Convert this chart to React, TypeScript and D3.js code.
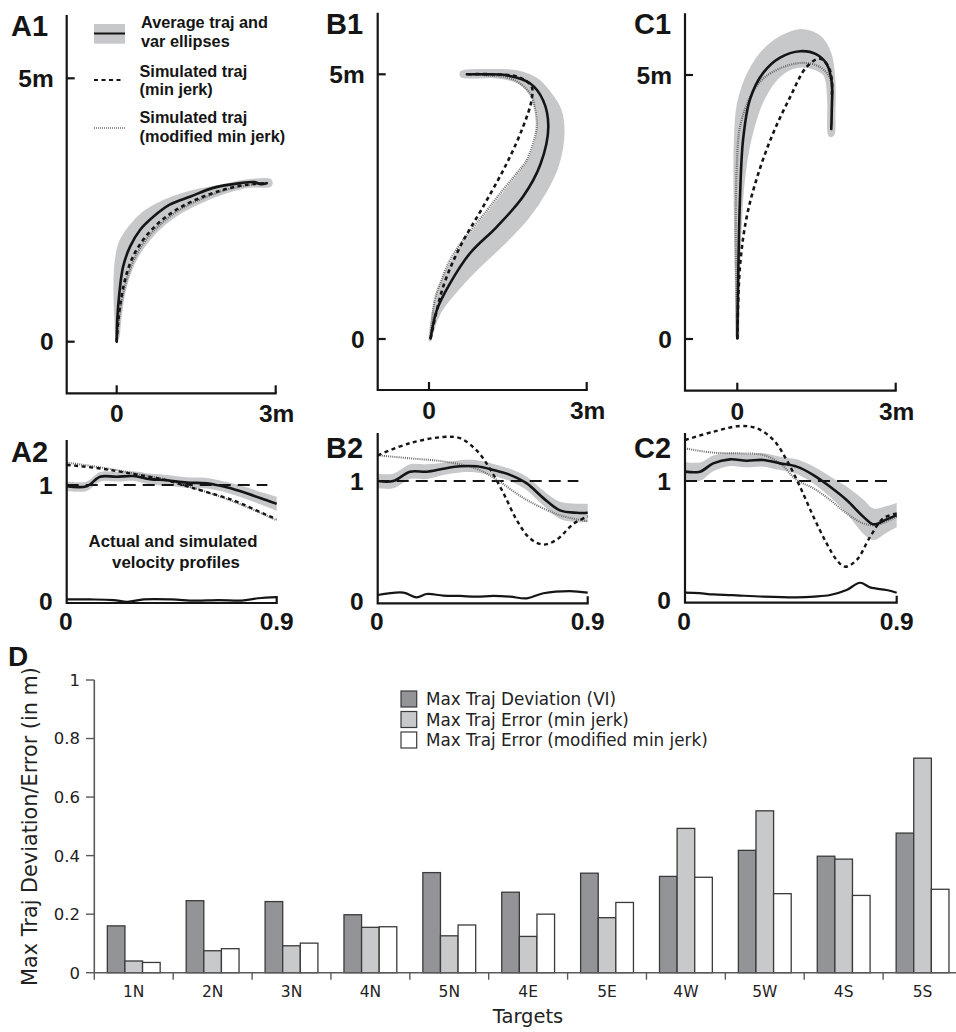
import React from "react";
import * as d3 from "d3";

type P = [number, number];

// ---------------- Panels A1/B1/C1: trajectories (metres) ----------------
const a1Mean: P[] = [[0, 0], [0.01, 0.41], [0.05, 0.92], [0.12, 1.42], [0.25, 1.8], [0.44, 2.12], [0.69, 2.37], [1.0, 2.6], [1.38, 2.75], [1.82, 2.92], [2.33, 3.01], [2.6, 3.03], [2.72, 2.99], [2.83, 3.01]];
const a1MinJerk: P[] = [[0, 0], [0.03, 0.4], [0.09, 0.85], [0.19, 1.3], [0.34, 1.68], [0.55, 2.0], [0.82, 2.28], [1.15, 2.52], [1.55, 2.72], [2.0, 2.88], [2.45, 2.98], [2.83, 3.01]];
const a1ModJerk: P[] = [[0, 0], [0.04, 0.4], [0.11, 0.85], [0.22, 1.28], [0.37, 1.65], [0.58, 1.97], [0.85, 2.25], [1.18, 2.5], [1.58, 2.7], [2.02, 2.87], [2.47, 2.97], [2.83, 3.01]];
const a1BandOuter: P[] = [[0, 0.05], [-0.01, 0.3], [-0.03, 0.79], [-0.02, 1.42], [0.06, 1.87], [0.25, 2.18], [0.5, 2.44], [0.88, 2.66], [1.32, 2.82], [1.89, 2.94], [2.45, 3.05], [2.9, 3.06]];
const a1BandInner: P[] = [[0.03, 0.1], [0.07, 0.5], [0.13, 0.9], [0.24, 1.3], [0.4, 1.65], [0.62, 1.96], [0.9, 2.24], [1.24, 2.48], [1.64, 2.68], [2.08, 2.85], [2.5, 2.95], [2.9, 2.97]];

const b1Mean: P[] = [[0.03, 0.01], [0.15, 0.55], [0.4, 1.05], [0.78, 1.62], [1.29, 2.12], [1.79, 2.69], [2.12, 3.3], [2.27, 4.01], [2.17, 4.51], [1.92, 4.83], [1.48, 4.98], [1.03, 5.0], [0.72, 5.0]];
const b1MinJerk: P[] = [[0.03, 0.01], [0.27, 0.99], [0.59, 1.74], [1.03, 2.5], [1.48, 3.32], [1.79, 4.01], [1.95, 4.51], [1.95, 4.77], [1.7, 4.95], [1.2, 5.0], [0.72, 5.0]];
const b1ModJerk: P[] = [[0.03, 0.01], [0.11, 0.74], [0.24, 1.12], [0.4, 1.49], [0.65, 1.87], [0.91, 2.19], [1.16, 2.5], [1.41, 2.82], [1.67, 3.13], [1.86, 3.38], [1.98, 3.7], [2.05, 4.01], [2.02, 4.33], [1.92, 4.64], [1.6, 4.9], [1.1, 4.98], [0.72, 5.0]];
const b1BandOuter: P[] = [[0.02, -0.02], [0.2, 0.5], [0.55, 0.95], [0.95, 1.37], [1.42, 1.81], [1.88, 2.3], [2.22, 2.8], [2.45, 3.3], [2.55, 3.89], [2.49, 4.33], [2.3, 4.64], [2.05, 4.9], [1.67, 5.05], [1.16, 5.07], [0.62, 5.04]];
const b1BandInner: P[] = [[0.02, 0.03], [0.1, 0.6], [0.24, 1.05], [0.44, 1.45], [0.7, 1.85], [0.97, 2.18], [1.23, 2.5], [1.48, 2.82], [1.73, 3.13], [1.92, 3.4], [2.03, 3.7], [2.08, 4.01], [2.05, 4.33], [1.94, 4.62], [1.7, 4.85], [1.3, 4.95], [0.62, 4.97]];

const c1Mean: P[] = [[0, 0.01], [0.02, 1.37], [0.05, 2.64], [0.11, 3.78], [0.24, 4.54], [0.49, 5.04], [0.81, 5.33], [1.19, 5.45], [1.5, 5.39], [1.69, 5.21], [1.79, 4.86], [1.79, 4.36], [1.78, 3.98]];
const c1MinJerk: P[] = [[0, 0], [0.05, 1.37], [0.18, 2.32], [0.4, 3.14], [0.68, 3.9], [1.0, 4.58], [1.31, 5.15], [1.57, 5.31], [1.73, 5.15], [1.79, 4.9], [1.79, 4.6]];
const c1ModJerk: P[] = [[0, 0], [-0.03, 1.99], [-0.01, 3.26], [0.05, 4.01], [0.24, 4.58], [0.49, 4.93], [0.87, 5.15], [1.25, 5.23], [1.57, 5.15], [1.76, 4.93], [1.79, 4.51], [1.79, 4.05]];
const c1BandOuter: P[] = [[-0.01, 0.05], [-0.02, 1.2], [-0.04, 2.5], [-0.04, 3.63], [0.02, 4.45], [0.24, 5.08], [0.56, 5.52], [0.94, 5.77], [1.25, 5.84], [1.57, 5.71], [1.76, 5.39], [1.83, 4.88], [1.83, 4.25], [1.81, 3.87]];
const c1BandInner: P[] = [[0.01, 0.05], [0.02, 1.1], [0.05, 2.0], [0.11, 2.96], [0.24, 3.78], [0.49, 4.55], [0.81, 5.0], [1.13, 5.16], [1.45, 5.13], [1.66, 5.0], [1.73, 4.5], [1.73, 4.0], [1.75, 3.86]];

// ---------------- Panels A2/B2/C2: velocity profiles ----------------
const a2Mean: P[] = [[0, 0.99], [0.086, 0.99], [0.143, 1.07], [0.214, 1.07], [0.286, 1.076], [0.357, 1.05], [0.429, 1.04], [0.514, 1.02], [0.6, 1.015], [0.686, 0.98], [0.771, 0.93], [0.857, 0.87], [0.9, 0.84]];
const a2Sd: number[] = [0.04, 0.04, 0.04, 0.04, 0.04, 0.045, 0.045, 0.045, 0.045, 0.045, 0.05, 0.055, 0.06];
const a2MinJerk: P[] = [[0, 1.17], [0.143, 1.14], [0.286, 1.093], [0.429, 1.04], [0.514, 0.99], [0.6, 0.94], [0.714, 0.87], [0.857, 0.746], [0.9, 0.71]];
const a2ModJerk: P[] = [[0, 1.19], [0.143, 1.15], [0.286, 1.1], [0.429, 1.045], [0.514, 0.995], [0.6, 0.94], [0.714, 0.86], [0.857, 0.74], [0.9, 0.7]];
const a2Var: P[] = [[0, 0.03], [0.1, 0.03], [0.2, 0.025], [0.26, 0.01], [0.33, 0.03], [0.45, 0.03], [0.55, 0.02], [0.65, 0.025], [0.75, 0.02], [0.82, 0.04], [0.9, 0.05]];

const b2Mean: P[] = [[0, 1.0], [0.067, 1.0], [0.139, 1.076], [0.21, 1.076], [0.281, 1.1], [0.353, 1.12], [0.424, 1.12], [0.496, 1.09], [0.567, 1.05], [0.639, 0.98], [0.71, 0.86], [0.781, 0.76], [0.853, 0.74], [0.9, 0.74]];
const b2Sd: number[] = [0.06, 0.06, 0.06, 0.06, 0.05, 0.05, 0.05, 0.05, 0.05, 0.055, 0.06, 0.07, 0.075, 0.075];
const b2MinJerk: P[] = [[0, 1.21], [0.139, 1.31], [0.281, 1.36], [0.353, 1.35], [0.424, 1.25], [0.481, 1.1], [0.539, 0.9], [0.596, 0.68], [0.653, 0.53], [0.71, 0.48], [0.767, 0.52], [0.839, 0.65], [0.9, 0.71]];
const b2ModJerk: P[] = [[0, 1.21], [0.14, 1.185], [0.281, 1.16], [0.424, 1.1], [0.51, 1.01], [0.639, 0.845], [0.781, 0.72], [0.9, 0.67]];
const b2Var: P[] = [[0, 0.068], [0.11, 0.087], [0.167, 0.049], [0.21, 0.076], [0.281, 0.063], [0.353, 0.06], [0.424, 0.054], [0.496, 0.06], [0.567, 0.054], [0.639, 0.041], [0.71, 0.082], [0.824, 0.1], [0.9, 0.087]];

const c2Mean: P[] = [[0, 1.077], [0.064, 1.077], [0.12, 1.145], [0.191, 1.178], [0.262, 1.167], [0.333, 1.173], [0.404, 1.145], [0.475, 1.118], [0.546, 1.049], [0.617, 0.953], [0.687, 0.844], [0.758, 0.707], [0.801, 0.644], [0.857, 0.685], [0.9, 0.72]];
const c2Sd: number[] = [0.08, 0.075, 0.065, 0.055, 0.055, 0.055, 0.055, 0.06, 0.07, 0.085, 0.11, 0.14, 0.13, 0.11, 0.1];
const c2MinJerk: P[] = [[0, 1.337], [0.12, 1.405], [0.234, 1.452], [0.305, 1.433], [0.376, 1.337], [0.432, 1.173], [0.489, 0.953], [0.546, 0.707], [0.602, 0.488], [0.645, 0.351], [0.68, 0.296], [0.73, 0.351], [0.787, 0.542], [0.843, 0.693], [0.9, 0.734]];
const c2ModJerk: P[] = [[0, 1.268], [0.12, 1.233], [0.234, 1.227], [0.333, 1.214], [0.404, 1.145], [0.475, 1.008], [0.546, 0.94], [0.617, 0.844], [0.687, 0.734], [0.758, 0.652], [0.815, 0.638], [0.9, 0.707]];
const c2Var: P[] = [[0, 0.082], [0.06, 0.078], [0.12, 0.068], [0.2, 0.062], [0.333, 0.05], [0.475, 0.044], [0.55, 0.05], [0.617, 0.063], [0.687, 0.104], [0.744, 0.164], [0.787, 0.126], [0.857, 0.104], [0.9, 0.082]];

// ---------------- Panel D: bar chart ----------------
const targets: string[] = ["1N", "2N", "3N", "4N", "5N", "4E", "5E", "4W", "5W", "4S", "5S"];
const maxDevVI: number[] = [0.16, 0.246, 0.243, 0.198, 0.342, 0.275, 0.34, 0.329, 0.418, 0.398, 0.477];
const maxErrMinJerk: number[] = [0.04, 0.075, 0.092, 0.155, 0.126, 0.124, 0.188, 0.493, 0.553, 0.388, 0.733];
const maxErrModMinJerk: number[] = [0.035, 0.082, 0.101, 0.157, 0.163, 0.2, 0.24, 0.326, 0.27, 0.264, 0.285];
const seriesNames: string[] = ["Max Traj Deviation (VI)", "Max Traj Error (min jerk)", "Max Traj Error (modified min jerk)"];
const yTicksD: number[] = [0, 0.2, 0.4, 0.6, 0.8, 1];

const HEL = "'Liberation Sans', Arial, Helvetica, sans-serif";
const DV = "'DejaVu Sans', Verdana, sans-serif";
const GRAY_BAND = "#c7c8ca";
const INK = "#151515";
const TICK_FS = 24.5;

type TrajCfg = { axisX: number; top: number; bottom: number; right: number; x0: number; x3: number; y0: number; y5: number; label: string; labelX: number; labelY: number };

function TrajPanel({ cfg, mean, minJerk, modJerk, outer, inner }: { cfg: TrajCfg; mean: P[]; minJerk: P[]; modJerk: P[]; outer: P[]; inner: P[] }) {
  const xs = d3.scaleLinear().domain([0, 3]).range([cfg.x0, cfg.x3]);
  const ys = d3.scaleLinear().domain([0, 5]).range([cfg.y0, cfg.y5]);
  const line = d3.line<P>().x((d) => xs(d[0])).y((d) => ys(d[1])).curve(d3.curveCatmullRom.alpha(0.5));
  const band = line([...outer, ...inner.slice().reverse()]) + "Z";
  return (
    <g>
      <path d={band} fill={GRAY_BAND} stroke={GRAY_BAND} strokeWidth={3} strokeLinejoin="round" />
      <path d={line(modJerk) || ""} fill="none" stroke="#6a6a6a" strokeWidth={2.2} strokeDasharray="1 1.1" />
      <path d={line(minJerk) || ""} fill="none" stroke={INK} strokeWidth={2.6} strokeDasharray="4 3.5" />
      <path d={line(mean) || ""} fill="none" stroke={INK} strokeWidth={2.6} strokeLinecap="round" />
      <path d={`M${cfg.axisX},${cfg.top}V${cfg.bottom}H${cfg.right}`} fill="none" stroke={INK} strokeWidth={2.2} />
      {[0, 5].map((v) => (
        <line key={"yt" + v} x1={cfg.axisX} x2={cfg.axisX + 8} y1={ys(v)} y2={ys(v)} stroke={INK} strokeWidth={2.2} />
      ))}
      {[0, 3].map((v) => (
        <line key={"xt" + v} x1={xs(v)} x2={xs(v)} y1={cfg.bottom} y2={cfg.bottom - 8} stroke={INK} strokeWidth={2.2} />
      ))}
      <g fontFamily={HEL} fontWeight="bold" fontSize={TICK_FS} fill={INK}>
        <text x={cfg.axisX - 13} y={ys(5) + 8.5} textAnchor="end">5m</text>
        <text x={cfg.axisX - 13} y={ys(0) + 8.5} textAnchor="end">0</text>
        <text x={xs(0)} y={cfg.bottom + 29} textAnchor="middle">0</text>
        <text x={xs(3) + 1} y={cfg.bottom + 29} textAnchor="middle">3m</text>
      </g>
      <text x={cfg.labelX} y={cfg.labelY} fontFamily={HEL} fontWeight="bold" fontSize={29} fill={INK}>{cfg.label}</text>
    </g>
  );
}

type VelCfg = { axisX: number; top: number; bottom: number; right: number; y1: number; label: string; labelX: number; labelY: number };

function VelPanel({ cfg, mean, sd, minJerk, modJerk, vari }: { cfg: VelCfg; mean: P[]; sd: number[]; minJerk: P[]; modJerk: P[]; vari: P[] }) {
  const xs = d3.scaleLinear().domain([0, 0.9]).range([cfg.axisX, cfg.right]);
  const ys = d3.scaleLinear().domain([0, 1]).range([cfg.bottom, cfg.y1]);
  const curve = d3.curveCatmullRom.alpha(0.5);
  const line = d3.line<P>().x((d) => xs(d[0])).y((d) => ys(d[1])).curve(curve);
  const area = d3
    .area<[P, number]>()
    .x((d) => xs(d[0][0]))
    .y0((d) => ys(d[0][1] - d[1]))
    .y1((d) => ys(d[0][1] + d[1]))
    .curve(curve);
  const bandData: [P, number][] = mean.map((d, i) => [d, sd[i]]);
  return (
    <g>
      <path d={area(bandData) || ""} fill={GRAY_BAND} />
      <line x1={xs(0)} x2={xs(0.86)} y1={ys(1)} y2={ys(1)} stroke={INK} strokeWidth={2.2} strokeDasharray="12 7" />
      <path d={line(modJerk) || ""} fill="none" stroke="#6a6a6a" strokeWidth={2} strokeDasharray="1 1.1" />
      <path d={line(minJerk) || ""} fill="none" stroke={INK} strokeWidth={2.4} strokeDasharray="4 3.5" />
      <path d={line(mean) || ""} fill="none" stroke={INK} strokeWidth={2.6} />
      <path d={line(vari) || ""} fill="none" stroke={INK} strokeWidth={2.2} />
      <path d={`M${cfg.axisX},${cfg.top}V${cfg.bottom}H${cfg.right}V${cfg.bottom - 7}`} fill="none" stroke={INK} strokeWidth={2.2} />
      <g fontFamily={HEL} fontWeight="bold" fontSize={TICK_FS} fill={INK}>
        <text x={cfg.axisX - 14} y={ys(1) + 8.5} textAnchor="end">1</text>
        <text x={cfg.axisX - 14} y={cfg.bottom + 6.5} textAnchor="end">0</text>
        <text x={xs(0) - 1} y={630} textAnchor="middle">0</text>
        <text x={xs(0.9)} y={630} textAnchor="middle">0.9</text>
      </g>
      <text x={cfg.labelX} y={cfg.labelY} fontFamily={HEL} fontWeight="bold" fontSize={29} fill={INK}>{cfg.label}</text>
    </g>
  );
}

function BarPanel() {
  const y = d3.scaleLinear().domain([0, 1]).range([972.7, 680]);
  const x = d3.scaleBand<string>().domain(targets).range([94.3, 962]).paddingInner(0).paddingOuter(0);
  const sub = d3.scaleBand<number>().domain([0, 1, 2]).range([0, x.bandwidth()]).paddingInner(0).paddingOuter(0.74);
  const fills = ["#939497", "#c8c9cb", "#ffffff"];
  const series = [maxDevVI, maxErrMinJerk, maxErrModMinJerk];
  const axisColor = "#5a5a5a";
  return (
    <g fontFamily={DV} fill="#222">
      {targets.map((t, i) => (
        <g key={t} transform={`translate(${x(t)},0)`}>
          {series.map((s, k) => (
            <rect key={k} x={sub(k)} y={y(s[i])} width={sub.bandwidth()} height={y(0) - y(s[i])} fill={fills[k]} stroke="#3a3a3a" strokeWidth={1.3} />
          ))}
        </g>
      ))}
      <line x1={94.3} x2={956} y1={y(0)} y2={y(0)} stroke={axisColor} strokeWidth={1.6} />
      <line x1={94.3} x2={94.3} y1={y(1)} y2={y(0)} stroke={axisColor} strokeWidth={1.6} />
      {yTicksD.map((v) => (
        <g key={v}>
          <line x1={86} x2={94.3} y1={y(v)} y2={y(v)} stroke={axisColor} strokeWidth={1.4} />
          <text x={80} y={y(v)} dy="0.36em" textAnchor="end" fontSize={16.5}>{String(v)}</text>
        </g>
      ))}
      {targets.map((t) => (
        <g key={"xt" + t}>
          <line x1={x(t)!} x2={x(t)!} y1={y(0)} y2={y(0) + 7} stroke={axisColor} strokeWidth={1.4} />
          <text x={x(t)! + x.bandwidth() / 2} y={996.5} textAnchor="middle" fontSize={15.5}>{t}</text>
        </g>
      ))}
      <text x={528} y={1022.5} textAnchor="middle" fontSize={19.5}>Targets</text>
      <text transform="translate(36.5,826.5) rotate(-90)" textAnchor="middle" fontSize={20.8}>Max Traj Deviation/Error (in m)</text>
      {seriesNames.map((n, k) => (
        <g key={n}>
          <rect x={401} y={691 + k * 20.5} width={15.7} height={16} fill={fills[k]} stroke="#3a3a3a" strokeWidth={1.2} />
          <text x={426} y={705 + k * 20.5} fontSize={16.8}>{n}</text>
        </g>
      ))}
      <text x={8} y={666} fontFamily={HEL} fontWeight="bold" fontSize={28} fill={INK}>D</text>
    </g>
  );
}

const trajA: TrajCfg = { axisX: 66.7, top: 15, bottom: 393.3, right: 276.7, x0: 116.7, x3: 275.7, y0: 341.7, y5: 78.3, label: "A1", labelX: 11, labelY: 36 };
const trajB: TrajCfg = { axisX: 377.7, top: 12.7, bottom: 390, right: 587.7, x0: 429, x3: 586.7, y0: 339, y5: 74.3, label: "B1", labelX: 326, labelY: 34 };
const trajC: TrajCfg = { axisX: 685, top: 13.3, bottom: 390.7, right: 896.7, x0: 737.3, x3: 895.7, y0: 339, y5: 75, label: "C1", labelX: 634, labelY: 34 };
const velA: VelCfg = { axisX: 66.7, top: 440, bottom: 603, right: 276.7, y1: 485, label: "A2", labelX: 11, labelY: 462 };
const velB: VelCfg = { axisX: 377.7, top: 433, bottom: 603.3, right: 587.7, y1: 481, label: "B2", labelX: 326, labelY: 458 };
const velC: VelCfg = { axisX: 685, top: 433, bottom: 602.7, right: 896.7, y1: 481, label: "C2", labelX: 634, labelY: 458 };

function Legend() {
  return (
    <g fontFamily={HEL} fontWeight="bold" fontSize={16.3} fill={INK}>
      <rect x={94} y={24} width={31} height={19.7} fill={GRAY_BAND} />
      <line x1={94} x2={125} y1={33.5} y2={33.5} stroke={INK} strokeWidth={2} />
      <text x={141} y={27.5}>Average traj and</text>
      <text x={141} y={46.5}>var ellipses</text>
      <line x1={94} x2={123} y1={80} y2={80} stroke={INK} strokeWidth={2} strokeDasharray="4 3.5" />
      <text x={139.5} y={76.5}>Simulated traj</text>
      <text x={139.5} y={95}>(min jerk)</text>
      <line x1={94} x2={125} y1={128} y2={128} stroke="#6a6a6a" strokeWidth={1.5} strokeDasharray="1 1" />
      <text x={139.5} y={123}>Simulated traj</text>
      <text x={139.5} y={142}>(modified min jerk)</text>
    </g>
  );
}

export default function App() {
  return (
    <svg width={956} height={1032} viewBox="0 0 956 1032" style={{ position: "absolute", left: 0, top: 0, background: "#fff" }}>
      <rect width={956} height={1032} fill="#fff" />
      <TrajPanel cfg={trajA} mean={a1Mean} minJerk={a1MinJerk} modJerk={a1ModJerk} outer={a1BandOuter} inner={a1BandInner} />
      <TrajPanel cfg={trajB} mean={b1Mean} minJerk={b1MinJerk} modJerk={b1ModJerk} outer={b1BandOuter} inner={b1BandInner} />
      <TrajPanel cfg={trajC} mean={c1Mean} minJerk={c1MinJerk} modJerk={c1ModJerk} outer={c1BandOuter} inner={c1BandInner} />
      <Legend />
      <VelPanel cfg={velA} mean={a2Mean} sd={a2Sd} minJerk={a2MinJerk} modJerk={a2ModJerk} vari={a2Var} />
      <VelPanel cfg={velB} mean={b2Mean} sd={b2Sd} minJerk={b2MinJerk} modJerk={b2ModJerk} vari={b2Var} />
      <VelPanel cfg={velC} mean={c2Mean} sd={c2Sd} minJerk={c2MinJerk} modJerk={c2ModJerk} vari={c2Var} />
      <g fontFamily={HEL} fontWeight="bold" fontSize={16.8} fill={INK} textAnchor="middle">
        <text x={173} y={546.5}>Actual and simulated</text>
        <text x={176} y={568}>velocity profiles</text>
      </g>
      <BarPanel />
    </svg>
  );
}
